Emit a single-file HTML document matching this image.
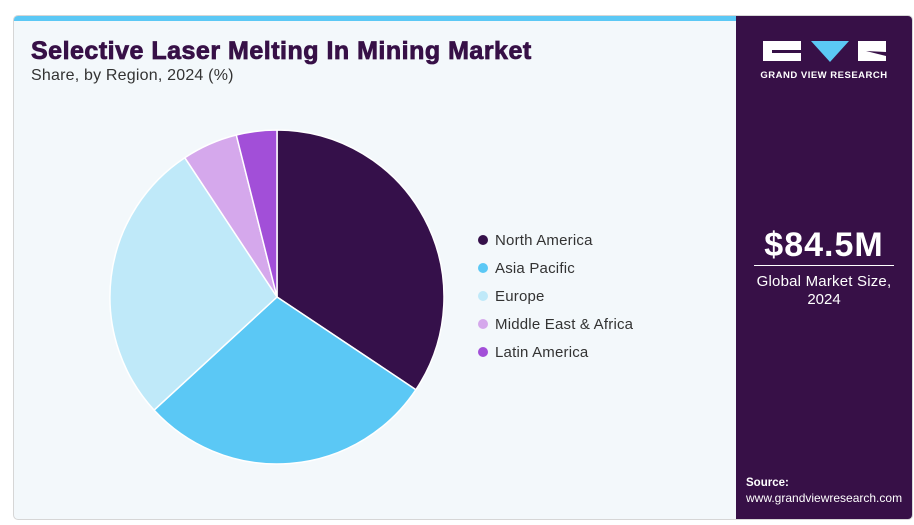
<!DOCTYPE html>
<html><head><style>
body{margin:0;width:914px;height:525px;background:#fff;font-family:"Liberation Sans",Arial,sans-serif;position:relative;overflow:hidden}
.card{position:absolute;left:13px;top:15px;width:898px;height:503px;background:#f3f8fb;border:1px solid #d6d6d6;border-radius:5px;overflow:hidden}
.topbar{position:absolute;left:0;top:0;width:722px;height:5px;background:#5bc8f5}
.side{position:absolute;left:722px;top:0;width:176px;height:503px;background:#371047}
h1{position:absolute;left:17px;top:21px;margin:0;font-size:25px;font-weight:900;color:#371047;letter-spacing:0.5px;white-space:nowrap;-webkit-text-stroke:0.8px #371047}
.sub{position:absolute;left:17px;top:51px;font-size:16px;color:#333;letter-spacing:0.2px}
.leg{position:absolute;left:470px;font-size:15px;color:#333;letter-spacing:0.2px;white-space:nowrap}
.leg i{display:inline-block;width:10px;height:10px;border-radius:50%;margin-right:7px;vertical-align:0px}
</style></head><body>
<div class="card">
<div class="topbar"></div>
<h1>Selective Laser Melting In Mining Market</h1>
<div class="sub">Share, by Region, 2024 (%)</div>
<div class="side">
<svg width="176" height="503" style="position:absolute;left:0;top:0">
<rect x="27" y="25" width="38" height="20" fill="#fff"/>
<rect x="36" y="34" width="29" height="3" fill="#371047"/>
<polygon points="75,25 113,25 94,46" fill="#5bc8f5"/>
<rect x="122" y="25" width="28" height="20" fill="#fff"/>
<polygon points="130,35 150,40 150,36" fill="#371047"/>
<text x="88" y="62" fill="#fff" font-size="9.5" font-weight="bold" text-anchor="middle" font-family="Liberation Sans" letter-spacing="0.5">GRAND VIEW RESEARCH</text>
<text x="88" y="240" fill="#fff" font-size="34" font-weight="bold" text-anchor="middle" font-family="Liberation Sans" letter-spacing="1">$84.5M</text>
<rect x="18" y="249" width="140" height="1" fill="#fff"/>
<text x="88" y="270" fill="#fff" font-size="15" text-anchor="middle" font-family="Liberation Sans" letter-spacing="0.2">Global Market Size,</text>
<text x="88" y="288" fill="#fff" font-size="15" text-anchor="middle" font-family="Liberation Sans">2024</text>
<text x="10" y="470" fill="#fff" font-size="11.5" font-weight="bold" font-family="Liberation Sans">Source:</text>
<text x="10" y="486" fill="#fff" font-size="12" font-family="Liberation Sans">www.grandviewresearch.com</text>
</svg>
</div>
</div>
<svg width="914" height="525" style="position:absolute;left:0;top:0">
<g stroke="#fff" stroke-width="1.5" stroke-linejoin="round">
<path d="M277,297 L277,130 A167,167 0 0 1 415.9,389.7 Z" fill="#35104a"/>
<path d="M277,297 L415.9,389.7 A167,167 0 0 1 154.1,410.1 Z" fill="#5bc8f5"/>
<path d="M277,297 L154.1,410.1 A167,167 0 0 1 184.8,157.7 Z" fill="#bfe9f9"/>
<path d="M277,297 L184.8,157.7 A167,167 0 0 1 236.3,135 Z" fill="#d5a8ec"/>
<path d="M277,297 L236.3,135 A167,167 0 0 1 277,130 Z" fill="#a24fd8"/>
</g>
</svg>
<div class="leg" style="left:478px;top:232px"><i style="background:#35104a"></i>North America</div>
<div class="leg" style="left:478px;top:260px"><i style="background:#5bc8f5"></i>Asia Pacific</div>
<div class="leg" style="left:478px;top:288px"><i style="background:#bfe9f9"></i>Europe</div>
<div class="leg" style="left:478px;top:316px"><i style="background:#d5a8ec"></i>Middle East &amp; Africa</div>
<div class="leg" style="left:478px;top:344px"><i style="background:#a24fd8"></i>Latin America</div>
</body></html>
